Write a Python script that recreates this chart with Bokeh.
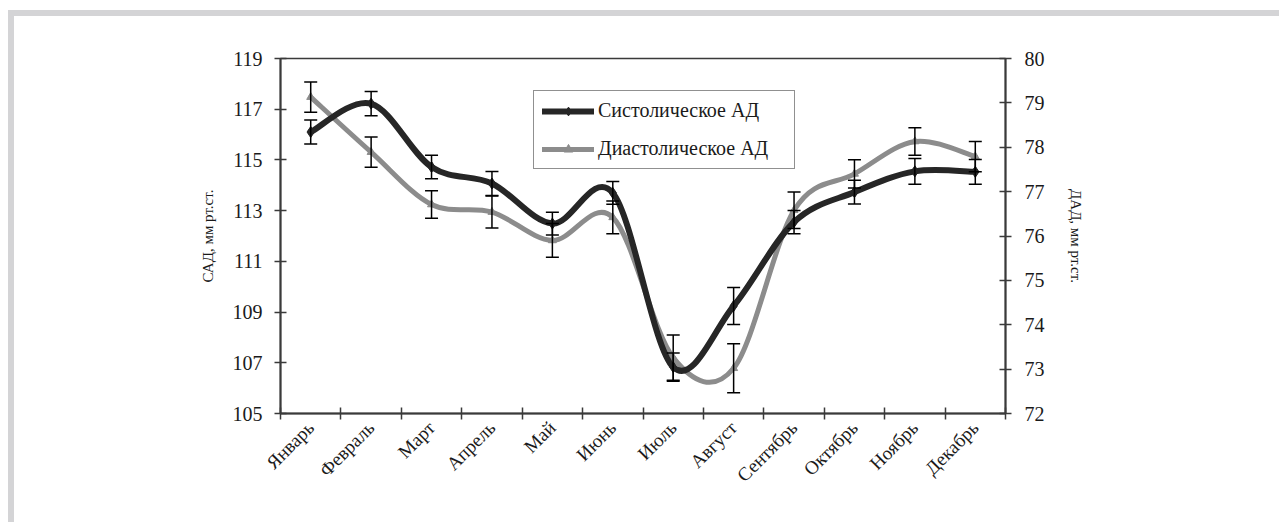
import math
from bokeh.plotting import figure
from bokeh.models import (Range1d, LinearAxis, FixedTicker,
                          Whisker, TeeHead, ColumnDataSource, Legend, LegendItem)
from bokeh.embed import file_html
from bokeh.resources import INLINE

months = ["Январь", "Февраль", "Март", "Апрель", "Май", "Июнь", "Июль", "Август",
          "Сентябрь", "Октябрь", "Ноябрь", "Декабрь"]
sys_vals = [116.10, 117.22, 114.72, 114.07, 112.49, 113.70, 106.83, 109.24, 112.55, 113.73, 114.55, 114.53]
sys_err = [0.47, 0.48, 0.46, 0.47, 0.45, 0.45, 0.56, 0.73, 0.46, 0.47, 0.51, 0.49]
dia_vals = [79.13, 77.89, 76.71, 76.54, 75.90, 76.42, 73.26, 73.02, 76.58, 77.40, 78.13, 77.79]
dia_err = [0.34, 0.34, 0.31, 0.36, 0.38, 0.37, 0.51, 0.55, 0.41, 0.32, 0.31, 0.34]
left_ticks = [105, 107, 109, 111, 113, 115, 117, 119]
right_ticks = [72, 73, 74, 75, 76, 77, 78, 79, 80]
sys_name = "Систолическое АД"
dia_name = "Диастолическое АД"
left_title = "САД, мм рт.ст."
right_title = "ДАД, мм рт.ст."

FONT = "Liberation Serif"
BLACK = "#262626"
GRAY = "#8c8c8c"
TXT = "#1a1a1a"
AX = "#3a3a3a"
FRAME = "#d4d4d6"

W, H = 1271, 512
n = len(months)
xs = [i + 0.5 for i in range(n)]

p = figure(width=W, height=H, x_range=Range1d(0, n), y_range=Range1d(left_ticks[0], left_ticks[-1]),
           output_backend="svg", toolbar_location=None, x_axis_location=None,
           min_border_left=266, min_border_right=280, min_border_top=42, min_border_bottom=115)
p.styles = {"margin-left": "8px", "margin-top": "10px",
            "border-top": "6px solid " + FRAME, "border-left": "6px solid " + FRAME}
p.extra_y_ranges = {"dad": Range1d(right_ticks[0], right_ticks[-1])}
p.xgrid.grid_line_color = None
p.ygrid.grid_line_color = None
p.outline_line_color = AX
p.outline_line_width = 1.5
p.background_fill_color = "white"
p.border_fill_color = "white"

# x axis: tick marks at category boundaries (no labels)
xa = LinearAxis(ticker=FixedTicker(ticks=[], minor_ticks=list(range(n + 1))))
xa.minor_tick_in = 6
xa.minor_tick_out = 6
xa.minor_tick_line_color = AX
xa.minor_tick_line_width = 1.5
xa.major_tick_line_color = None
xa.axis_line_color = AX
xa.axis_line_width = 2
xa.major_label_standoff = 0
p.add_layout(xa, "below")

# month labels at category centres
ca = LinearAxis(ticker=FixedTicker(ticks=xs),
                major_label_overrides={x: m for x, m in zip(xs, months)})
ca.axis_line_color = None
ca.major_tick_line_color = None
ca.minor_tick_line_color = None
ca.major_tick_out = 0
ca.major_tick_in = 0
ca.major_label_orientation = math.pi / 4
ca.major_label_text_font = FONT
ca.major_label_text_font_size = "19px"
ca.major_label_text_color = TXT
ca.major_label_standoff = 5
p.add_layout(ca, "below")

ya = p.left[0]
ya.ticker = FixedTicker(ticks=left_ticks)
ya.major_tick_in = 6
ya.major_tick_out = 6
ya.minor_tick_line_color = None
ya.axis_line_color = AX
ya.axis_line_width = 2
ya.major_tick_line_color = AX
ya.major_tick_line_width = 1.5
ya.major_label_text_font = FONT
ya.major_label_text_font_size = "20px"
ya.major_label_text_color = TXT
ya.major_label_standoff = 12
ya.axis_label = left_title
ya.axis_label_text_font = FONT
ya.axis_label_text_font_size = "15px"
ya.axis_label_text_font_style = "normal"
ya.axis_label_text_color = TXT
ya.axis_label_standoff = 14

ra = LinearAxis(y_range_name="dad", ticker=FixedTicker(ticks=right_ticks))
ra.major_tick_in = 6
ra.major_tick_out = 6
ra.minor_tick_line_color = None
ra.axis_line_color = AX
ra.axis_line_width = 2
ra.major_tick_line_color = AX
ra.major_tick_line_width = 1.5
ra.major_label_text_font = FONT
ra.major_label_text_font_size = "20px"
ra.major_label_text_color = TXT
ra.major_label_standoff = 13
ra.axis_label = right_title
ra.axis_label_text_font = FONT
ra.axis_label_text_font_size = "15px"
ra.axis_label_text_font_style = "normal"
ra.axis_label_text_color = TXT
ra.axis_label_standoff = 20
p.add_layout(ra, "right")


def bezier_parts(vals):
    x0, y0, x1, y1, cx0, cy0, cx1, cy1 = [], [], [], [], [], [], [], []
    m = len(vals)
    for i in range(m - 1):
        a = max(i - 1, 0)
        d = min(i + 2, m - 1)
        x0.append(xs[i]); y0.append(vals[i])
        x1.append(xs[i + 1]); y1.append(vals[i + 1])
        cx0.append(xs[i] + (xs[i + 1] - xs[a]) / 6.0)
        cy0.append(vals[i] + (vals[i + 1] - vals[a]) / 6.0)
        cx1.append(xs[i + 1] - (xs[d] - xs[i]) / 6.0)
        cy1.append(vals[i + 1] - (vals[d] - vals[i]) / 6.0)
    return dict(x0=x0, y0=y0, x1=x1, y1=y1, cx0=cx0, cy0=cy0, cx1=cx1, cy1=cy1)


# diastolic (gray, right axis)
dia_ln = p.bezier(source=ColumnDataSource(bezier_parts(dia_vals)), x0="x0", y0="y0", x1="x1", y1="y1",
                  cx0="cx0", cy0="cy0", cx1="cx1", cy1="cy1", line_color=GRAY, line_width=5,
                  line_cap="round", y_range_name="dad")
dia_sc = p.scatter(xs, dia_vals, marker="triangle", size=8, color=GRAY, y_range_name="dad")

# systolic (black, left axis)
sys_ln = p.bezier(source=ColumnDataSource(bezier_parts(sys_vals)), x0="x0", y0="y0", x1="x1", y1="y1",
                  cx0="cx0", cy0="cy0", cx1="cx1", cy1="cy1", line_color=BLACK, line_width=6,
                  line_cap="round")
sys_sc = p.scatter(xs, sys_vals, marker="diamond", size=11, color=BLACK)

# error bars
sys_src = ColumnDataSource(dict(x=xs, upper=[v + e for v, e in zip(sys_vals, sys_err)],
                                lower=[v - e for v, e in zip(sys_vals, sys_err)]))
dia_src = ColumnDataSource(dict(x=xs, upper=[v + e for v, e in zip(dia_vals, dia_err)],
                                lower=[v - e for v, e in zip(dia_vals, dia_err)]))
w1 = Whisker(source=sys_src, base="x", upper="upper", lower="lower", dimension="height",
             line_color="black", line_width=1.5, level="overlay",
             upper_head=TeeHead(size=13, line_color="black", line_width=1.5),
             lower_head=TeeHead(size=13, line_color="black", line_width=1.5))
w2 = Whisker(source=dia_src, base="x", upper="upper", lower="lower", dimension="height",
             line_color="black", line_width=1.5, level="overlay", y_range_name="dad",
             upper_head=TeeHead(size=13, line_color="black", line_width=1.5),
             lower_head=TeeHead(size=13, line_color="black", line_width=1.5))
p.add_layout(w1)
p.add_layout(w2)

# legend
legend = Legend(items=[LegendItem(label=sys_name, renderers=[sys_ln, sys_sc]),
                       LegendItem(label=dia_name, renderers=[dia_ln, dia_sc])],
                location=(253, 244), orientation="vertical",
                border_line_color="#222222", border_line_width=1.2,
                background_fill_alpha=1.0, padding=8, spacing=15, margin=0,
                glyph_width=52, glyph_height=22, label_height=22, label_standoff=4,
                label_width=188,
                label_text_font=FONT, label_text_font_size="20px", label_text_color=TXT)
p.add_layout(legend)

open("out.html", "w").write(file_html(p, INLINE))
